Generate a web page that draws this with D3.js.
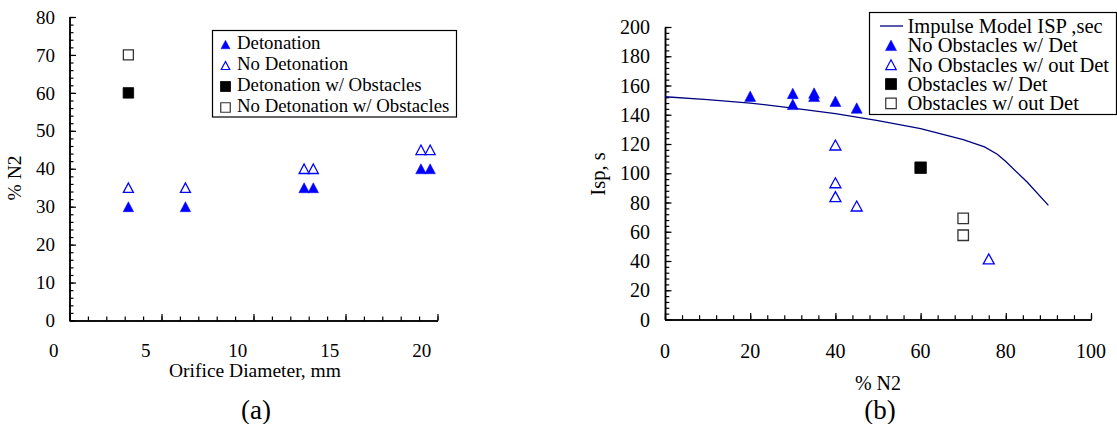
<!DOCTYPE html>
<html>
<head>
<meta charset="utf-8">
<script src="https://cdn.jsdelivr.net/npm/d3@7"></script>
<style>
  body { margin: 0; background: #fff; }
  text { font-family: "Liberation Serif", "Times New Roman", serif; fill: #000; }
</style>
</head>
<body>
<svg id="chart" width="1117" height="424"></svg>
<script>
// ---------- Panel (a): % N2 vs orifice diameter ----------
const diamDet      = [4.05, 7.15, 13.6, 14.1, 19.95, 20.45];
const n2Det        = [30, 30, 35, 35, 40, 40];
const diamNoDet    = [4.05, 7.15, 13.6, 14.1, 19.95, 20.45];
const n2NoDet      = [35, 35, 40, 40, 45, 45];
const diamDetObs   = [4.05];
const n2DetObs     = [60];
const diamNoDetObs = [4.05];
const n2NoDetObs   = [70];
const diamTickLabels = [0, 5, 10, 15, 20];
const n2TickLabelsA  = [0, 10, 20, 30, 40, 50, 60, 70, 80];
const legendA = ["Detonation", "No Detonation", "Detonation w/ Obstacles", "No Detonation w/ Obstacles"];

// ---------- Panel (b): Isp vs % N2 ----------
const modelN2  = [0, 10, 20, 30, 40, 50, 60, 70, 75, 78, 80, 85, 90];
const modelIsp = [152.3, 150.3, 148, 144.6, 140.7, 136, 130.5, 123, 118, 113, 108, 94, 78];
const detN2    = [20, 30, 30, 35, 35, 40, 45];
const detIsp   = [152.7, 154.6, 147.1, 154.8, 152.6, 149.2, 144.6];
const noDetN2  = [40, 40, 40, 45, 76];
const noDetIsp = [119.3, 93.5, 84, 77.6, 41.4];
const obsDetN2    = [60];
const obsDetIsp   = [103.8];
const obsNoDetN2  = [70, 70];
const obsNoDetIsp = [69.2, 57.6];
const n2TickLabelsB  = [0, 20, 40, 60, 80, 100];
const ispTickLabels  = [0, 20, 40, 60, 80, 100, 120, 140, 160, 180, 200];
const legendB = ["Impulse Model ISP ,sec", "No Obstacles w/ Det", "No Obstacles w/ out Det", "Obstacles w/ Det", "Obstacles w/ out Det"];

const BLUE = "#0000ff", NAVY = "#000080";
const svg = d3.select("#chart");

// Upward triangle centred on its bounding box
const triangle = (w, h) => ({
  draw(ctx) {
    ctx.moveTo(0, -h / 2);
    ctx.lineTo(w / 2, h / 2);
    ctx.lineTo(-w / 2, h / 2);
    ctx.closePath();
  }
});
const square = s => ({
  draw(ctx) { ctx.rect(-s / 2, -s / 2, s, s); }
});

const markerStyles = {
  triFill:  { type: triangle(10.5, 10), fill: BLUE, stroke: BLUE, sw: 0.5 },
  triOpen:  { type: triangle(10, 9.5), fill: "#fff", stroke: BLUE, sw: 1.3 },
  sqFill:   { type: square(10.5), fill: "#000", stroke: "#000", sw: 0.8 },
  sqOpen:   { type: square(10), fill: "#fff", stroke: "#333", sw: 1.3 }
};

function drawPoints(g, xs, ys, xScale, yScale, style) {
  const sym = d3.symbol().type(style.type)();
  g.selectAll(null)
    .data(xs.map((x, i) => [x, ys[i]]))
    .join("path")
    .attr("d", sym)
    .attr("transform", d => `translate(${xScale(d[0])},${yScale(d[1])})`)
    .attr("fill", style.fill)
    .attr("stroke", style.stroke)
    .attr("stroke-width", style.sw);
}

function tickAxis(g, axisFn, scale, values, size) {
  g.call(axisFn(scale).tickValues(values).tickSize(size).tickSizeOuter(0).tickFormat(""))
    .call(s => s.selectAll("line").attr("stroke", "#000").attr("stroke-width", 1.2))
    .call(s => s.select(".domain").attr("stroke", "#000").attr("stroke-width", 1.5));
}

// ======================= Panel (a) =======================
{
  const x = d3.scaleLinear().domain([0.85, 20.85]).range([69.5, 437.5]);
  const y = d3.scaleLinear().domain([0, 80]).range([320.5, 17]);
  const g = svg.append("g");

  // y axis (ticks pointing inward)
  tickAxis(g.append("g").attr("transform", `translate(${x(0.85)},0)`), d3.axisRight, y, d3.range(0, 80.1, 2), 4);
  tickAxis(g.append("g").attr("transform", `translate(${x(0.85)},0)`), d3.axisRight, y, d3.range(0, 80.1, 10), 6.5);
  // x axis
  tickAxis(g.append("g").attr("transform", `translate(0,${y(0)})`), d3.axisTop, x, d3.range(0.85, 20.9, 1), 4);
  tickAxis(g.append("g").attr("transform", `translate(0,${y(0)})`), d3.axisTop, x, d3.range(0.85, 20.9, 5), 6.5);

  g.selectAll(".ya").data(n2TickLabelsA).join("text")
    .attr("x", 55).attr("y", d => y(d)).attr("dy", "0.35em")
    .attr("text-anchor", "end").attr("font-size", 19).text(d => d);
  g.selectAll(".xa").data(diamTickLabels).join("text")
    .attr("x", d => x(d)).attr("y", 356.5)
    .attr("text-anchor", "middle").attr("font-size", 19).text(d => d);

  g.append("text").attr("x", 255).attr("y", 377).attr("text-anchor", "middle")
    .attr("font-size", 19.5).text("Orifice Diameter, mm");
  g.append("text").attr("transform", "translate(21,178) rotate(-90)").attr("text-anchor", "middle")
    .attr("font-size", 19.5).text("% N2");
  g.append("text").attr("x", 256).attr("y", 419).attr("text-anchor", "middle")
    .attr("font-size", 27).text("(a)");

  drawPoints(g, diamNoDet, n2NoDet, x, y, markerStyles.triOpen);
  drawPoints(g, diamDet, n2Det, x, y, markerStyles.triFill);
  drawPoints(g, diamNoDetObs, n2NoDetObs, x, y, markerStyles.sqOpen);
  drawPoints(g, diamDetObs, n2DetObs, x, y, markerStyles.sqFill);

  // legend
  const lg = g.append("g");
  lg.append("rect").attr("x", 212.5).attr("y", 30.5).attr("width", 244).attr("height", 86.5)
    .attr("fill", "#fff").attr("stroke", "#000").attr("stroke-width", 1.2);
  const legStylesA = [
    { type: triangle(9, 8.5), fill: BLUE, stroke: BLUE, sw: 0.5 },
    { type: triangle(8.5, 8), fill: "#fff", stroke: BLUE, sw: 1.2 },
    { type: square(10), fill: "#000", stroke: "#000", sw: 0.8 },
    { type: square(9.5), fill: "#fff", stroke: "#333", sw: 1.2 }
  ];
  legendA.forEach((label, i) => {
    const base = 49.3 + i * 21;
    lg.append("path").attr("d", d3.symbol().type(legStylesA[i].type)())
      .attr("transform", `translate(225.5,${base - 4.8})`)
      .attr("fill", legStylesA[i].fill).attr("stroke", legStylesA[i].stroke)
      .attr("stroke-width", legStylesA[i].sw);
    lg.append("text").attr("x", 237).attr("y", base).attr("font-size", 18.8).text(label);
  });
}

// ======================= Panel (b) =======================
{
  const x = d3.scaleLinear().domain([0, 100]).range([665, 1091]);
  const y = d3.scaleLinear().domain([0, 200]).range([319.5, 27]);
  const g = svg.append("g");

  tickAxis(g.append("g").attr("transform", `translate(${x(0)},0)`), d3.axisRight, y, d3.range(0, 200.1, 4), 4.3);
  tickAxis(g.append("g").attr("transform", `translate(${x(0)},0)`), d3.axisRight, y, d3.range(0, 200.1, 20), 6.5);
  tickAxis(g.append("g").attr("transform", `translate(0,${y(0)})`), d3.axisTop, x, d3.range(0, 100.1, 4), 4.3);
  tickAxis(g.append("g").attr("transform", `translate(0,${y(0)})`), d3.axisTop, x, d3.range(0, 100.1, 20), 6.5);

  g.selectAll(".yb").data(ispTickLabels).join("text")
    .attr("x", 650).attr("y", d => y(d)).attr("dy", "0.35em")
    .attr("text-anchor", "end").attr("font-size", 20).text(d => d);
  g.selectAll(".xb").data(n2TickLabelsB).join("text")
    .attr("x", d => x(d)).attr("y", 357.5)
    .attr("text-anchor", "middle").attr("font-size", 20).text(d => d);

  g.append("text").attr("x", 878).attr("y", 390).attr("text-anchor", "middle")
    .attr("font-size", 20).text("% N2");
  g.append("text").attr("transform", "translate(605,174) rotate(-90)").attr("text-anchor", "middle")
    .attr("font-size", 20.5).text("Isp, s");
  g.append("text").attr("x", 880).attr("y", 419).attr("text-anchor", "middle")
    .attr("font-size", 27).text("(b)");

  // impulse model curve
  g.append("path")
    .datum(modelN2.map((n, i) => [n, modelIsp[i]]))
    .attr("d", d3.line().x(d => x(d[0])).y(d => y(d[1])))
    .attr("fill", "none").attr("stroke", NAVY).attr("stroke-width", 1.3);

  drawPoints(g, noDetN2, noDetIsp, x, y, { ...markerStyles.triOpen, type: triangle(11, 10) });
  drawPoints(g, detN2, detIsp, x, y, { ...markerStyles.triFill, type: triangle(11, 10.5) });
  drawPoints(g, obsNoDetN2, obsNoDetIsp, x, y, { ...markerStyles.sqOpen, type: square(10.5) });
  drawPoints(g, obsDetN2, obsDetIsp, x, y, { ...markerStyles.sqFill, type: square(11.5) });

  // legend
  const lg = g.append("g");
  lg.append("rect").attr("x", 869.5).attr("y", 12.5).attr("width", 247).attr("height", 102)
    .attr("fill", "#fff").attr("stroke", "#000").attr("stroke-width", 1.2);
  const legStylesB = [
    null,
    { type: triangle(11, 10.5), fill: BLUE, stroke: BLUE, sw: 0.5 },
    { type: triangle(10.5, 10), fill: "#fff", stroke: BLUE, sw: 1.2 },
    { type: square(11), fill: "#000", stroke: "#000", sw: 0.8 },
    { type: square(10.5), fill: "#fff", stroke: "#333", sw: 1.2 }
  ];
  legendB.forEach((label, i) => {
    const cy = 26 + i * 19.35;
    if (i === 0) {
      lg.append("line").attr("x1", 880).attr("x2", 903).attr("y1", cy).attr("y2", cy)
        .attr("stroke", NAVY).attr("stroke-width", 1.3);
    } else {
      lg.append("path").attr("d", d3.symbol().type(legStylesB[i].type)())
        .attr("transform", `translate(891,${cy})`)
        .attr("fill", legStylesB[i].fill).attr("stroke", legStylesB[i].stroke)
        .attr("stroke-width", legStylesB[i].sw);
    }
    lg.append("text").attr("x", 907.5).attr("y", cy + 7).attr("font-size", 20.5).text(label);
  });
}
</script>
</body>
</html>
